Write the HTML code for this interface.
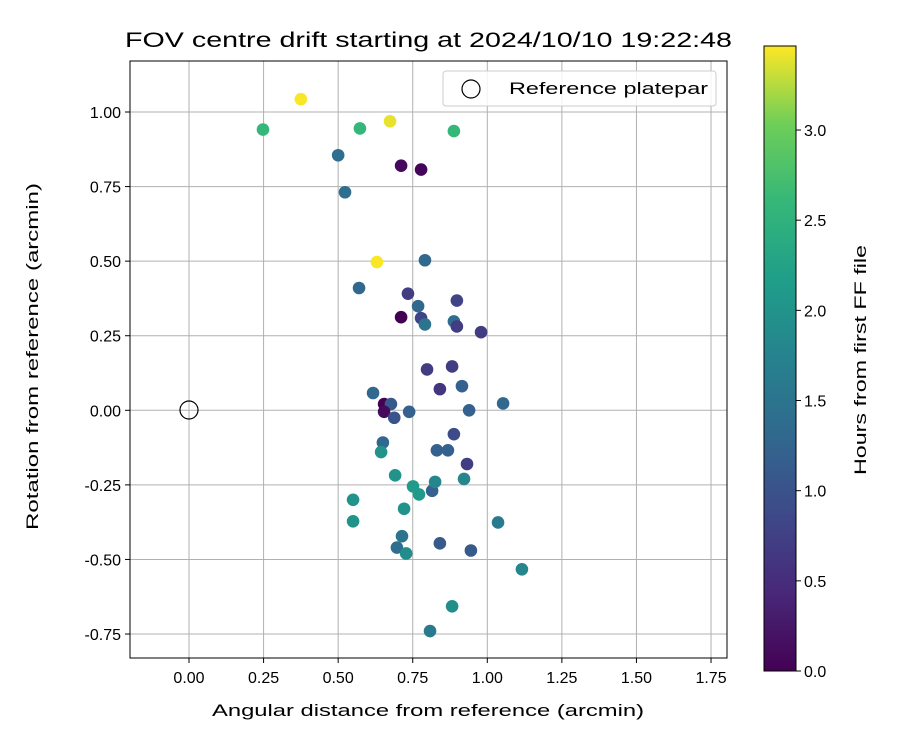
<!DOCTYPE html>
<html><head><meta charset="utf-8"><style>
body{margin:0;background:#fff;}
svg text{font-family:"Liberation Sans","DejaVu Sans",sans-serif;fill:#000;}
</style></head><body>
<svg id="chart" width="900" height="750" xmlns="http://www.w3.org/2000/svg">
<defs>
<linearGradient id="vir" x1="0" y1="1" x2="0" y2="0">
<stop offset="0" stop-color="#440154"/><stop offset="0.125" stop-color="#482878"/><stop offset="0.25" stop-color="#3e4989"/><stop offset="0.375" stop-color="#31688e"/><stop offset="0.5" stop-color="#26828e"/><stop offset="0.625" stop-color="#1f9e89"/><stop offset="0.75" stop-color="#35b779"/><stop offset="0.875" stop-color="#6ece58"/><stop offset="1" stop-color="#fde725"/>
</linearGradient>
</defs>
<g id="grid"></g>
<g id="pts"></g>
<rect x="130" y="61" width="597" height="597" fill="none" stroke="#000" stroke-width="1"/>
<g id="ticks"></g>
<text x="125" y="47" font-size="21" textLength="607" lengthAdjust="spacingAndGlyphs">FOV centre drift starting at 2024/10/10 19:22:48</text>
<text x="212" y="716" font-size="17" textLength="432" lengthAdjust="spacingAndGlyphs">Angular distance from reference (arcmin)</text>
<text transform="translate(38,530) rotate(-90)" font-size="17" textLength="347" lengthAdjust="spacingAndGlyphs">Rotation from reference (arcmin)</text>
<g>
<rect x="443" y="71" width="273" height="35" rx="3" fill="#fff" fill-opacity="0.85" stroke="#ccc"/>
<circle cx="471" cy="89" r="9" fill="none" stroke="#000" stroke-width="1.2"/>
<text x="509" y="94" font-size="17" textLength="199" lengthAdjust="spacingAndGlyphs">Reference platepar</text>
</g>
<circle cx="189" cy="410" r="9" fill="none" stroke="#000" stroke-width="1.2"/>
<rect x="764" y="46" width="32" height="625" fill="url(#vir)" stroke="#000" stroke-width="1"/>
<g id="cb"></g>
<text transform="translate(866,475) rotate(-90)" font-size="17" textLength="230" lengthAdjust="spacingAndGlyphs">Hours from first FF file</text>
</svg>
<script>
const xs=[0.375,0.248,0.573,0.674,0.888,0.50,0.523,0.711,0.778,0.63,0.791,0.57,0.734,0.898,0.768,0.711,0.778,0.791,0.888,0.898,0.979,0.798,0.882,0.841,0.915,0.617,0.654,0.677,0.654,0.688,0.738,0.939,1.053,0.65,0.644,0.831,0.868,0.888,0.932,0.691,0.751,0.771,0.815,0.825,0.922,0.55,0.55,0.721,0.714,0.697,0.728,0.841,0.945,1.036,1.116,0.882,0.808];
const ys=[1.043,0.941,0.945,0.969,0.936,0.855,0.731,0.82,0.807,0.497,0.503,0.41,0.391,0.368,0.349,0.312,0.309,0.288,0.298,0.281,0.262,0.137,0.147,0.071,0.081,0.058,0.021,0.021,-0.005,-0.025,-0.005,0.0,0.023,-0.108,-0.14,-0.134,-0.134,-0.08,-0.18,-0.218,-0.255,-0.282,-0.27,-0.24,-0.23,-0.30,-0.372,-0.33,-0.422,-0.46,-0.48,-0.446,-0.47,-0.376,-0.533,-0.657,-0.74];
const hours=[3.45,2.6,2.6,3.4,2.6,1.4,1.4,0.1,0.05,3.45,1.3,1.3,0.7,0.8,1.3,0.0,0.8,1.5,1.4,0.7,0.7,0.7,0.7,0.6,1.2,1.3,0.0,1.1,0.1,1.0,1.2,1.2,1.3,1.3,2.0,1.2,1.2,0.9,0.7,2.0,2.1,2.1,1.2,1.8,1.8,2.0,2.0,2.0,1.5,1.4,1.9,1.1,1.1,1.6,1.8,1.9,1.6];
const xTicks=[0,0.25,0.5,0.75,1.0,1.25,1.5,1.75];
const yTicks=[-0.75,-0.5,-0.25,0,0.25,0.5,0.75,1.0];
const cTicks=[0,0.5,1.0,1.5,2.0,2.5,3.0];
const NS='http://www.w3.org/2000/svg';
const sx=v=>189+v*298.3, sy=v=>410.3-v*298.3;
const cMax=3.466, cy=v=>671-v/cMax*625;
const vir=[[68,1,84],[72,40,120],[62,73,137],[49,104,142],[38,130,142],[31,158,137],[53,183,121],[110,206,88],[253,231,37]];
function col(h){let t=Math.max(0,Math.min(1,h/cMax))*8,i=Math.min(7,Math.floor(t)),f=t-i;const a=vir[i],b=vir[i+1];return 'rgb('+a.map((c,k)=>Math.round(c+(b[k]-c)*f)).join(',')+')';}
function mk(tag,at,parent){const e=document.createElementNS(NS,tag);for(const k in at)e.setAttribute(k,at[k]);parent.appendChild(e);return e;}
const g=document.getElementById('grid'),tk=document.getElementById('ticks'),pts=document.getElementById('pts'),cb=document.getElementById('cb');
xTicks.forEach(v=>{const x=sx(v);
const l=mk('line',{x1:x,x2:x,y1:61,y2:658,stroke:'#b0b0b0','stroke-width':1},g);


mk('line',{x1:x,x2:x,y1:658,y2:663,stroke:'#000'},tk);
const t=mk('text',{x:x,y:683,'font-size':16,'text-anchor':'middle'},tk);t.textContent=v.toFixed(2);

});
yTicks.forEach(v=>{const y=sy(v);
const l=mk('line',{x1:130,x2:727,y1:y,y2:y,stroke:'#b0b0b0','stroke-width':1},g);


mk('line',{x1:125,x2:130,y1:y,y2:y,stroke:'#000'},tk);
const t=mk('text',{x:121,y:y+6,'font-size':16,'text-anchor':'end'},tk);t.textContent=v.toFixed(2);

});
cTicks.forEach(v=>{const y=cy(v);
mk('line',{x1:796,x2:801,y1:y,y2:y,stroke:'#000'},cb);
const t=mk('text',{x:804,y:y+6,'font-size':16},cb);t.textContent=v.toFixed(1);

});
xs.forEach((x,i)=>{const c=mk('circle',{cx:sx(x),cy:sy(ys[i]),r:6.3,fill:col(hours[i])},pts);

});
</script>
</body></html>
